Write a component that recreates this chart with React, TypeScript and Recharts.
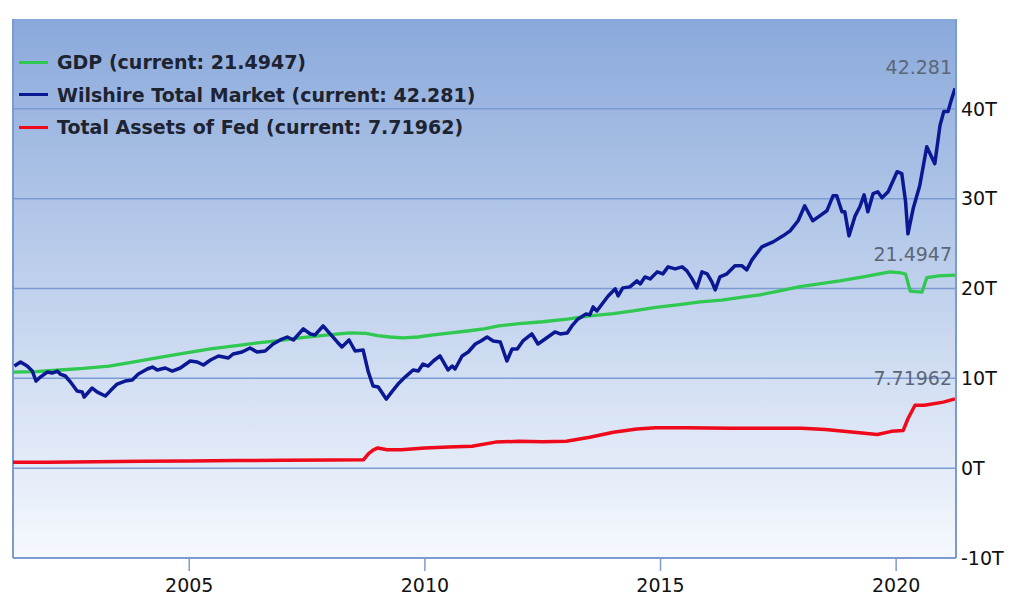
import React from 'react';
import { LineChart, Line, XAxis, YAxis, CartesianGrid, Legend, LabelList, ReferenceLine } from 'recharts';

const xTicks = [2005, 2010, 2015, 2020];
const yTicks = [-10, 0, 10, 20, 30, 40];
const xDomain = [2001.26, 2021.27];
const yDomain = [-10, 50];

const gdpYears = [2001.25, 2001.75, 2002.25, 2002.75, 2003.3, 2003.8, 2004.4, 2004.9, 2005.45, 2006.0, 2006.45, 2006.9, 2007.35, 2007.9, 2008.4, 2008.75, 2009.0, 2009.26, 2009.54, 2009.85, 2010.18, 2010.55, 2010.9, 2011.25, 2011.57, 2012.0, 2012.5, 2013.02, 2013.5, 2014.0, 2014.42, 2014.9, 2015.4, 2015.84, 2016.3, 2016.7, 2017.11, 2017.5, 2017.96, 2018.4, 2018.8, 2019.3, 2019.87, 2020.1, 2020.2, 2020.3, 2020.55, 2020.65, 2020.9, 2021.25];
const gdpValues = [10.7, 10.75, 10.93, 11.1, 11.37, 11.8, 12.37, 12.8, 13.27, 13.65, 13.94, 14.2, 14.5, 14.8, 15.05, 15.0, 14.75, 14.6, 14.5, 14.6, 14.83, 15.05, 15.27, 15.5, 15.83, 16.1, 16.3, 16.6, 16.95, 17.2, 17.5, 17.9, 18.2, 18.5, 18.7, 19.0, 19.3, 19.7, 20.2, 20.55, 20.85, 21.3, 21.85, 21.75, 21.6, 19.7, 19.6, 21.2, 21.4, 21.4947];

const wilshireYears = [2001.29, 2001.42, 2001.56, 2001.67, 2001.75, 2001.84, 2001.99, 2002.09, 2002.2, 2002.26, 2002.37, 2002.48, 2002.62, 2002.73, 2002.77, 2002.94, 2003.05, 2003.22, 2003.32, 2003.47, 2003.64, 2003.79, 2003.92, 2004.11, 2004.22, 2004.32, 2004.49, 2004.64, 2004.81, 2005.02, 2005.17, 2005.3, 2005.45, 2005.62, 2005.83, 2005.93, 2006.12, 2006.29, 2006.44, 2006.61, 2006.78, 2006.93, 2007.08, 2007.21, 2007.42, 2007.57, 2007.67, 2007.84, 2007.99, 2008.14, 2008.24, 2008.39, 2008.52, 2008.69, 2008.8, 2008.9, 2009.01, 2009.18, 2009.31, 2009.43, 2009.58, 2009.75, 2009.86, 2009.96, 2010.07, 2010.18, 2010.32, 2010.49, 2010.58, 2010.64, 2010.79, 2010.92, 2011.07, 2011.19, 2011.32, 2011.45, 2011.6, 2011.74, 2011.85, 2011.96, 2012.08, 2012.27, 2012.4, 2012.55, 2012.76, 2012.87, 2013.02, 2013.12, 2013.25, 2013.42, 2013.5, 2013.57, 2013.65, 2013.76, 2013.89, 2014.04, 2014.1, 2014.2, 2014.35, 2014.5, 2014.57, 2014.67, 2014.78, 2014.93, 2015.05, 2015.16, 2015.31, 2015.46, 2015.56, 2015.67, 2015.77, 2015.88, 2015.99, 2016.09, 2016.16, 2016.26, 2016.41, 2016.58, 2016.73, 2016.83, 2016.94, 2017.15, 2017.39, 2017.6, 2017.75, 2017.92, 2018.06, 2018.23, 2018.38, 2018.53, 2018.66, 2018.74, 2018.85, 2018.91, 2019.0, 2019.13, 2019.23, 2019.32, 2019.4, 2019.51, 2019.61, 2019.7, 2019.83, 2020.02, 2020.12, 2020.2, 2020.25, 2020.36, 2020.5, 2020.65, 2020.82, 2020.93, 2021.01, 2021.1, 2021.18, 2021.25];
const wilshireValues = [11.37, 11.82, 11.37, 10.81, 9.7, 10.14, 10.7, 10.59, 10.81, 10.48, 10.26, 9.59, 8.58, 8.47, 7.92, 8.92, 8.47, 8.03, 8.58, 9.36, 9.7, 9.81, 10.48, 11.04, 11.26, 10.93, 11.15, 10.81, 11.15, 11.93, 11.82, 11.48, 12.04, 12.49, 12.26, 12.71, 12.93, 13.38, 12.93, 13.04, 13.82, 14.27, 14.6, 14.27, 15.5, 14.94, 14.83, 15.83, 14.94, 14.05, 13.49, 14.27, 13.04, 13.15, 10.7, 9.14, 9.03, 7.69, 8.58, 9.36, 10.14, 10.93, 10.81, 11.59, 11.37, 11.93, 12.49, 10.93, 11.37, 11.04, 12.49, 12.93, 13.82, 14.16, 14.6, 14.16, 14.05, 11.93, 13.27, 13.27, 14.16, 14.94, 13.82, 14.38, 15.16, 14.94, 15.05, 15.83, 16.61, 17.17, 17.06, 17.95, 17.5, 18.28, 19.17, 19.96, 19.17, 20.07, 20.18, 20.85, 20.51, 21.29, 21.07, 21.85, 21.63, 22.41, 22.18, 22.41, 21.96, 21.07, 20.07, 21.85, 21.63, 20.74, 19.84, 21.29, 21.63, 22.52, 22.52, 22.07, 23.19, 24.64, 25.19, 25.86, 26.42, 27.54, 29.21, 27.54, 28.09, 28.65, 30.32, 30.32, 28.54, 28.54, 25.86, 28.09, 29.1, 30.43, 28.54, 30.55, 30.77, 30.1, 30.77, 33.0, 32.78, 29.65, 26.09, 28.87, 31.44, 35.78, 33.89, 38.13, 39.69, 39.69, 41.14, 42.281];

const fedYears = [2001.25, 2002.0, 2003.0, 2004.0, 2005.0, 2006.0, 2007.0, 2008.0, 2008.7, 2008.8, 2008.9, 2009.0, 2009.2, 2009.5, 2010.0, 2010.5, 2011.0, 2011.5, 2012.0, 2012.5, 2013.0, 2013.5, 2014.0, 2014.5, 2014.9, 2015.5, 2016.5, 2017.5, 2018.0, 2018.5, 2019.0, 2019.6, 2019.9, 2020.15, 2020.25, 2020.4, 2020.6, 2021.0, 2021.25];
const fedValues = [0.65, 0.67, 0.72, 0.77, 0.8, 0.84, 0.87, 0.9, 0.95, 1.6, 2.0, 2.25, 2.05, 2.05, 2.25, 2.35, 2.45, 2.9, 3.0, 2.95, 3.0, 3.45, 4.0, 4.35, 4.5, 4.5, 4.45, 4.45, 4.45, 4.3, 4.05, 3.75, 4.1, 4.2, 5.5, 7.0, 7.0, 7.35, 7.71962];

const seriesNames = ['GDP', 'Wilshire Total Market', 'Total Assets of Fed'];
const seriesColors = ['#2fc850', '#0b1894', '#ee0a1a'];

const build = (xs: number[], ys: number[]) => xs.map((x, i) => ({ x, y: ys[i] }));
const gdpData = build(gdpYears, gdpValues);
const wilshireData = build(wilshireYears, wilshireValues);
const fedData = build(fedYears, fedValues);

const seriesList = [
  { name: seriesNames[0], color: seriesColors[0], data: gdpData, last: gdpValues[gdpValues.length - 1], width: 3.3 },
  { name: seriesNames[1], color: seriesColors[1], data: wilshireData, last: wilshireValues[wilshireValues.length - 1], width: 3.5 },
  { name: seriesNames[2], color: seriesColors[2], data: fedData, last: fedValues[fedValues.length - 1], width: 3.5 },
];

const frameColor = '#7d9bd3';
const font = 'DejaVu Sans, Verdana, sans-serif';

const endLabel = (lastIndex: number) => (props: any) => {
  const { index, value } = props;
  if (index !== lastIndex) return null;
  const x = props.x ?? props.viewBox?.x;
  const y = props.y ?? props.viewBox?.y;
  return (
    <text x={x - 3} y={y - 14} textAnchor="end" fill="#5c6676" fontSize={19} fontFamily={font}>
      {value}
    </text>
  );
};

const renderLegend = () => (
  <div style={{ fontFamily: font, fontWeight: 'bold', fontSize: 19, color: '#1d2330' }}>
    {seriesList.map((s) => (
      <div key={s.name} style={{ display: 'flex', alignItems: 'center', height: 32.5, whiteSpace: 'nowrap' }}>
        <span style={{ display: 'inline-block', width: 29, height: 3, background: s.color, marginRight: 9 }} />
        <span>{`${s.name} (current: ${s.last})`}</span>
      </div>
    ))}
  </div>
);

export default function App() {
  return (
    <div style={{ position: 'absolute', left: 0, top: 0, width: 1017, height: 608, background: '#ffffff' }}>
      <LineChart width={1017} height={608} margin={{ top: 19, right: 0, bottom: 0, left: 13 }}>
        <defs>
          <linearGradient id="bgGrad" x1="0" y1="0" x2="0" y2="1">
            <stop offset="0%" stopColor="#8aa9db" />
            <stop offset="100%" stopColor="#f6f9fe" />
          </linearGradient>
        </defs>
        <CartesianGrid
          vertical={false}
          horizontalValues={yTicks}
          fill="url(#bgGrad)"
          fillOpacity={1}
          stroke={frameColor}
          strokeWidth={1.5}
        />
        <XAxis
          dataKey="x"
          type="number"
          domain={xDomain}
          ticks={xTicks}
          allowDataOverflow
          height={50}
          tickSize={13}
          tickMargin={8}
          axisLine={{ stroke: frameColor, strokeWidth: 2 }}
          tickLine={{ stroke: frameColor, strokeWidth: 1.5 }}
          tick={{ fill: '#111', fontSize: 19, fontFamily: font }}
        />
        <YAxis
          orientation="right"
          type="number"
          domain={yDomain}
          ticks={yTicks}
          allowDataOverflow
          width={61}
          tickSize={0}
          tickMargin={5}
          tickLine={false}
          axisLine={{ stroke: frameColor, strokeWidth: 2 }}
          tick={{ fill: '#111', fontSize: 19, fontFamily: font, textAnchor: 'start' }}
          tickFormatter={(v: number) => `${v}T`}
        />
        <ReferenceLine x={xDomain[0]} stroke={frameColor} strokeWidth={2} />
        <Legend
          layout="vertical"
          align="center"
          verticalAlign="middle"
          content={renderLegend}
          wrapperStyle={{ top: 46, left: 19, width: 'auto', height: 'auto' }}
        />
        {seriesList.map((s) => (
          <Line
            key={s.name}
            data={s.data}
            dataKey="y"
            name={s.name}
            type="linear"
            stroke={s.color}
            strokeWidth={s.width}
            strokeLinejoin="round"
            dot={false}
            activeDot={false}
            isAnimationActive={false}
          >
            <LabelList dataKey="y" content={endLabel(s.data.length - 1)} />
          </Line>
        ))}
      </LineChart>
    </div>
  );
}
